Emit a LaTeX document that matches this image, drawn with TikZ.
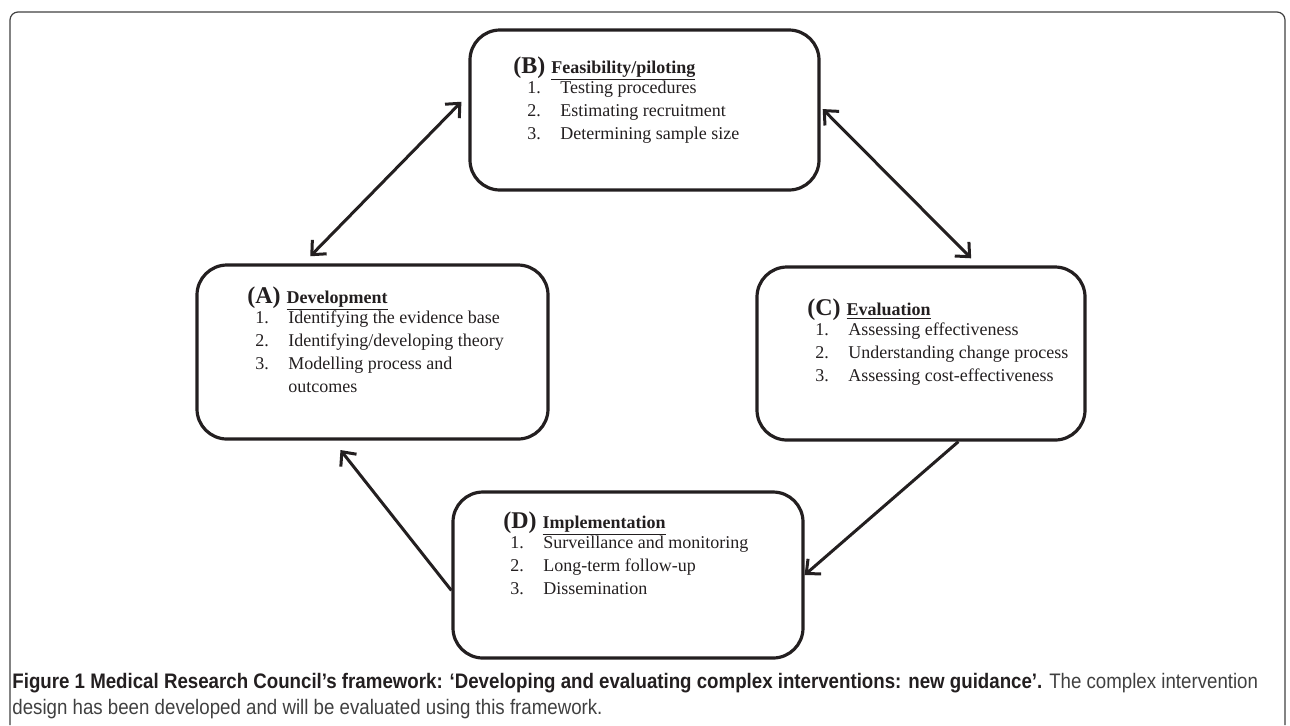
\documentclass[tikz,border=0pt]{standalone}
\usepackage{fontspec}
\setmainfont{Liberation Serif}
\newfontfamily\capfont[FakeStretch=0.89]{Liberation Sans}
\usetikzlibrary{arrows.meta}

\definecolor{ink}{HTML}{231F20}
\newcommand{\stagetitle}[2]{{\fontsize{12}{12}\selectfont\bfseries(#1)}\hspace{3pt}\textbf{\underline{#2}}}
\newcommand{\numbered}[1]{\begin{tabular}[t]{@{}p{16.5pt}@{}l@{}}#1\end{tabular}}

\tikzset{
  stage/.style={draw=ink, line width=1.6pt, rounded corners=15pt, inner sep=0pt},
  head/.style={anchor=base west, inner sep=0pt, text=ink, font=\fontsize{9}{11.5}\selectfont},
  items/.style={anchor=base west, inner sep=0pt, text=ink, font=\fontsize{9}{11.5}\selectfont},
  link/.style={draw=ink, line width=1.5pt, -{Straight Barb[length=5.5pt,width=10pt]}},
  dlink/.style={link, {Straight Barb[length=5.5pt,width=10pt]}-{Straight Barb[length=5.5pt,width=10pt]}},
  frame/.style={draw=black!75, line width=0.6pt, rounded corners=4pt},
}

\begin{document}
\begin{tikzpicture}[x=0.5pt,y=-0.5pt]
                \useasboundingbox (0,0) rectangle (1290,725);
                % 枠
                \draw[frame] (10,725) -- (10,12) -- (1285,12) -- (1285,725);

                % 四つの段階
                \node[stage, minimum width=174.5pt, minimum height=80pt] (B) at (644.5,110) {};
                \node[stage, minimum width=175.5pt, minimum height=87pt] (A) at (372.5,352) {};
                \node[stage, minimum width=164pt, minimum height=86.5pt] (C) at (921,353.5) {};
                \node[stage, minimum width=175pt, minimum height=83pt] (D) at (628,575) {};

                \node[head] (Bhead) at (513,73) {\stagetitle{B}{Feasibility/piloting}};
                \node[items] (Blist) at (527,93) {\numbered{1. & Testing procedures\\ 2. & Estimating recruitment\\ 3. & Determining sample size}};

                \node[head] (Ahead) at (247,303) {\stagetitle{A}{Development}};
                \node[items] (Alist) at (255,323) {\numbered{1. & Identifying the evidence base\\ 2. & Identifying/developing theory\\ 3. & Modelling process and\\ & outcomes}};

                \node[head] (Chead) at (807,315) {\stagetitle{C}{Evaluation}};
                \node[items] (Clist) at (815,335) {\numbered{1. & Assessing effectiveness\\ 2. & Understanding change process\\ 3. & Assessing cost-effectiveness}};

                \node[head] (Dhead) at (503,528) {\stagetitle{D}{Implementation}};
                \node[items] (Dlist) at (510,548) {\numbered{1. & Surveillance and monitoring\\ 2. & Long-term follow-up\\ 3. & Dissemination}};

                % 矢印
                \draw[dlink, shorten <=5pt, shorten >=5pt] (B.175.7) -- (A.128.6);
                \draw[dlink, shorten <=1.5pt, shorten >=5pt] (B.1.6) -- (C.57.7);
                \draw[link] (C.293.2) -- (D.east);
                \draw[link, shorten >=6pt] (D.185.5) -- (A.246.9);

                % 説明文
                \node[anchor=north west, inner sep=0pt, align=left, text=ink, font=\capfont\fontsize{10.5}{13}\selectfont] (caption) at (12,673) {\textbf{Figure 1 Medical Research Council’s framework: ‘Developing and evaluating complex interventions: new guidance’.} \textcolor{black!75}{The complex intervention}\\ \textcolor{black!75}{design has been developed and will be evaluated using this framework.}};
            \end{tikzpicture}
\end{document}
